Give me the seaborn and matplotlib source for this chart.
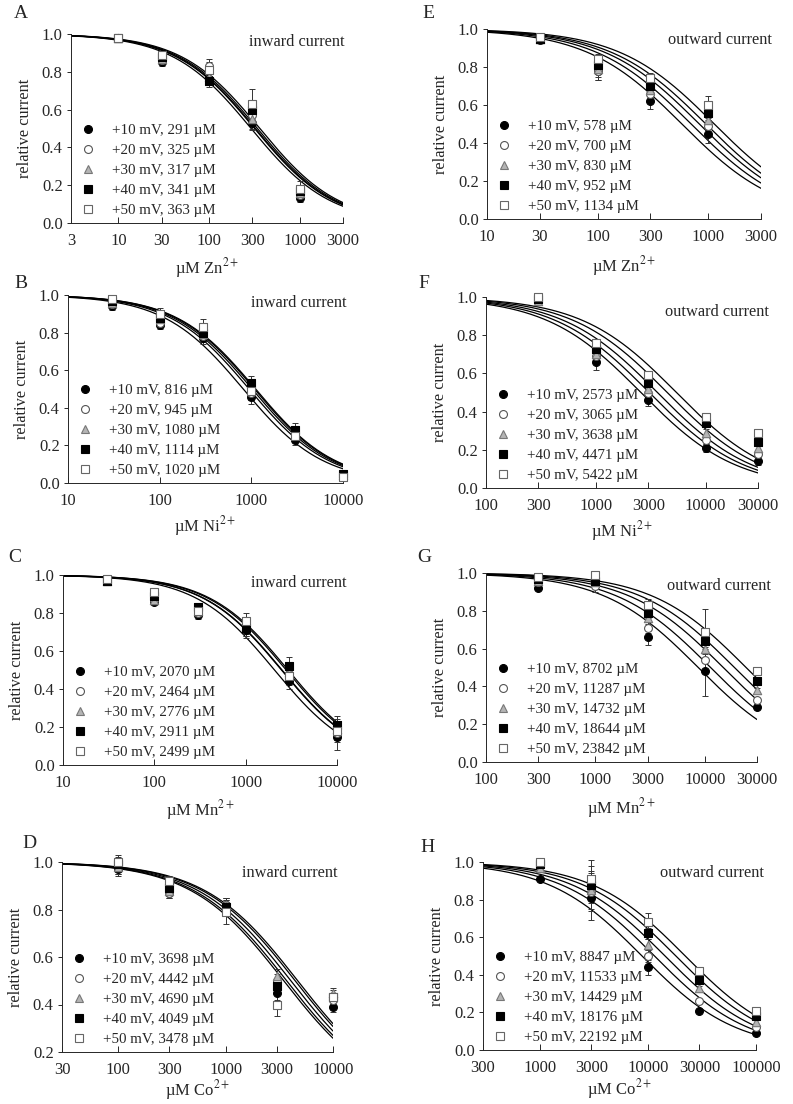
import numpy as np
import pandas as pd
import matplotlib
matplotlib.use("Agg")
import matplotlib.pyplot as plt
from matplotlib.lines import Line2D
from matplotlib.ticker import FixedLocator, NullLocator
import seaborn as sns

sns.set_style("ticks")
plt.rcParams['font.family'] = ['Liberation Serif', 'DejaVu Serif']
plt.rcParams['mathtext.fontset'] = 'stix'

#_______________________________________________________________________
# Data (rows: +10 .. +50 mV, columns: concentrations)
voltages = ['+10 mV', '+20 mV', '+30 mV', '+40 mV', '+50 mV']

# A: Zn2+, inward
a_conc = [10, 30, 100, 300, 1000]
a_ic50 = [291, 325, 317, 341, 363]
a_y = [[0.98, 0.85, 0.76, 0.53, 0.13],
       [0.98, 0.86, 0.83, 0.57, 0.15],
       [0.98, 0.87, 0.77, 0.55, 0.16],
       [0.98, 0.88, 0.75, 0.60, 0.17],
       [0.98, 0.89, 0.81, 0.63, 0.18]]
a_err = [[0.02, 0.02, 0.03, 0.04, 0.02],
         [0.02, 0.02, 0.04, 0.04, 0.03],
         [0.02, 0.02, 0.04, 0.05, 0.03],
         [0.02, 0.02, 0.03, 0.04, 0.03],
         [0.02, 0.02, 0.04, 0.08, 0.04]]

# E: Zn2+, outward
e_conc = [30, 100, 300, 1000]
e_ic50 = [578, 700, 830, 952, 1134]
e_y = [[0.94, 0.78, 0.62, 0.45],
       [0.95, 0.78, 0.66, 0.49],
       [0.95, 0.79, 0.68, 0.52],
       [0.95, 0.81, 0.70, 0.56],
       [0.96, 0.84, 0.74, 0.60]]
e_err = [[0.01, 0.05, 0.04, 0.05],
         [0.01, 0.05, 0.03, 0.04],
         [0.01, 0.04, 0.03, 0.04],
         [0.01, 0.04, 0.03, 0.04],
         [0.01, 0.03, 0.03, 0.05]]

# B: Ni2+, inward
b_conc = [30, 100, 300, 1000, 3000, 10000]
b_ic50 = [816, 945, 1080, 1114, 1020]
b_y = [[0.94, 0.84, 0.77, 0.46, 0.23, 0.04],
       [0.95, 0.85, 0.78, 0.48, 0.25, 0.03],
       [0.96, 0.87, 0.79, 0.50, 0.26, 0.04],
       [0.97, 0.88, 0.80, 0.53, 0.28, 0.05],
       [0.98, 0.90, 0.83, 0.49, 0.25, 0.03]]
b_err = [[0.02, 0.02, 0.03, 0.04, 0.03, 0.01],
         [0.02, 0.02, 0.03, 0.04, 0.03, 0.01],
         [0.02, 0.02, 0.03, 0.04, 0.03, 0.01],
         [0.02, 0.02, 0.03, 0.04, 0.04, 0.01],
         [0.02, 0.03, 0.04, 0.04, 0.03, 0.01]]

# F: Ni2+, outward
f_conc = [300, 1000, 3000, 10000, 30000]
f_ic50 = [2573, 3065, 3638, 4471, 5422]
f_y = [[0.98, 0.66, 0.46, 0.21, 0.14],
       [0.98, 0.69, 0.50, 0.25, 0.18],
       [0.98, 0.70, 0.52, 0.29, 0.21],
       [0.99, 0.73, 0.55, 0.34, 0.24],
       [1.00, 0.76, 0.59, 0.37, 0.29]]
f_err = [[0.01, 0.04, 0.03, 0.02, 0.02],
         [0.01, 0.03, 0.03, 0.02, 0.02],
         [0.01, 0.03, 0.03, 0.02, 0.02],
         [0.01, 0.03, 0.03, 0.02, 0.02],
         [0.01, 0.02, 0.02, 0.02, 0.02]]

# C: Mn2+, inward
c_conc = [30, 100, 300, 1000, 3000, 10000]
c_ic50 = [2070, 2464, 2776, 2911, 2499]
c_y = [[0.97, 0.86, 0.79, 0.71, 0.44, 0.15],
       [0.97, 0.87, 0.80, 0.72, 0.48, 0.17],
       [0.97, 0.87, 0.81, 0.73, 0.49, 0.19],
       [0.97, 0.89, 0.83, 0.72, 0.52, 0.21],
       [0.98, 0.91, 0.81, 0.76, 0.47, 0.18]]
c_err = [[0.02, 0.01, 0.02, 0.04, 0.04, 0.07],
         [0.02, 0.02, 0.02, 0.04, 0.05, 0.05],
         [0.02, 0.02, 0.02, 0.04, 0.05, 0.05],
         [0.02, 0.02, 0.02, 0.04, 0.05, 0.05],
         [0.02, 0.02, 0.02, 0.04, 0.05, 0.05]]

# G: Mn2+, outward
g_conc = [300, 1000, 3000, 10000, 30000]
g_ic50 = [8702, 11287, 14732, 18644, 23842]
g_y = [[0.92, 0.95, 0.66, 0.48, 0.29],
       [0.95, 0.93, 0.71, 0.54, 0.33],
       [0.96, 0.95, 0.76, 0.60, 0.38],
       [0.97, 0.96, 0.79, 0.64, 0.43],
       [0.98, 0.99, 0.83, 0.69, 0.48]]
g_err = [[0.01, 0.02, 0.04, 0.13, 0.01],
         [0.01, 0.03, 0.03, 0.06, 0.01],
         [0.01, 0.03, 0.03, 0.06, 0.01],
         [0.01, 0.03, 0.03, 0.06, 0.01],
         [0.01, 0.02, 0.03, 0.12, 0.01]]

# D: Co2+, inward
d_conc = [100, 300, 1000, 3000, 10000]
d_ic50 = [3698, 4442, 4690, 4049, 3478]
d_y = [[0.97, 0.87, 0.82, 0.45, 0.39],
       [0.98, 0.87, 0.82, 0.50, 0.42],
       [0.98, 0.88, 0.82, 0.52, 0.45],
       [0.99, 0.89, 0.81, 0.48, 0.43],
       [1.00, 0.92, 0.79, 0.40, 0.43]]
d_err = [[0.03, 0.02, 0.03, 0.03, 0.02],
         [0.03, 0.02, 0.03, 0.03, 0.02],
         [0.03, 0.02, 0.03, 0.03, 0.02],
         [0.03, 0.02, 0.03, 0.03, 0.02],
         [0.03, 0.02, 0.05, 0.05, 0.03]]

# H: Co2+, outward
h_conc = [1000, 3000, 10000, 30000, 100000]
h_ic50 = [8847, 11533, 14429, 18176, 22192]
h_y = [[0.91, 0.81, 0.44, 0.21, 0.09],
       [0.98, 0.84, 0.50, 0.26, 0.12],
       [0.97, 0.85, 0.56, 0.33, 0.15],
       [0.99, 0.88, 0.62, 0.37, 0.18],
       [1.00, 0.91, 0.68, 0.42, 0.21]]
h_err = [[0.01, 0.12, 0.04, 0.01, 0.01],
         [0.01, 0.10, 0.03, 0.01, 0.01],
         [0.01, 0.10, 0.03, 0.01, 0.01],
         [0.01, 0.10, 0.03, 0.01, 0.01],
         [0.01, 0.10, 0.05, 0.01, 0.01]]

# marker style per voltage: (marker, face, edge)
styles = [('o', 'black', 'black'),
          ('o', 'white', '#555555'),
          ('^', '#b4b4b4', '#777777'),
          ('s', 'black', 'black'),
          ('s', 'white', '#666666')]

#_______________________________________________________________________
fig = plt.figure(figsize=(7.93, 11.04), dpi=100)
W, H = 793, 1104


def add_axes(left, right, top, bottom):
    return fig.add_axes([left / W, 1 - bottom / H, (right - left) / W, (bottom - top) / H])


def draw_panel(ax, conc, ic50, ys, errs, xlim, xticks, ylim, yticks, ion, note, note_xy, xpad):
    # fitted Hill curves (n = 1) from the IC50 values in the legend
    grid = np.logspace(np.log10(xlim[0]), np.log10(xlim[1]), 200)
    for k in ic50:
        sns.lineplot(x=grid, y=1 / (1 + grid / k), color='black', lw=0.9, ax=ax, zorder=2)
    for i, (mk, fc, ec) in enumerate(styles):
        eb = ax.errorbar(conc, ys[i], yerr=errs[i], fmt='none', ecolor='#333333',
                         elinewidth=0.7, capsize=2.5, capthick=0.7, zorder=3)
        for art in eb.lines[1] + eb.lines[2]:
            art.set_clip_on(False)
        df = pd.DataFrame({'conc': conc, 'y': ys[i]})
        sns.scatterplot(data=df, x='conc', y='y', marker=mk, color=fc, edgecolor=ec,
                        linewidth=0.8, s=32 if mk != '^' else 36, ax=ax, zorder=4,
                        clip_on=False)
    ax.set_xscale('log')
    ax.set_xlim(xlim)
    ax.set_ylim(ylim)
    ax.xaxis.set_major_locator(FixedLocator(xticks))
    ax.xaxis.set_minor_locator(NullLocator())
    ax.set_xticklabels([str(t) for t in xticks])
    ax.set_yticks(yticks)
    ax.set_yticklabels(['%.1f' % t for t in yticks])
    ax.tick_params(axis='x', direction='in', length=4, width=0.7, labelsize=12, pad=7)
    ax.tick_params(axis='y', direction='out', length=3, width=0.7, labelsize=12, pad=3)
    for s in ['top', 'right']:
        ax.spines[s].set_visible(False)
    for s in ['left', 'bottom']:
        ax.spines[s].set_linewidth(0.7)
    ax.set_xlabel('µM ' + ion + '$^{2+}$', fontsize=12, labelpad=xpad)
    ax.set_ylabel('relative current', fontsize=11.8, labelpad=6)
    ax.text(note_xy[0], note_xy[1], note, transform=ax.transAxes, ha='center',
            va='center', fontsize=11.8)
    handles = [Line2D([], [], ls='none', marker=mk, markerfacecolor=fc, markeredgecolor=ec,
                      markeredgewidth=0.8, markersize=5.7 if mk != '^' else 6.2)
               for mk, fc, ec in styles]
    labels = ['%s, %d µM' % (v, k) for v, k in zip(voltages, ic50)]
    ax.legend(handles, labels, loc='lower left', bbox_to_anchor=(0.035, 0.03),
              frameon=False, fontsize=10.8, handlelength=1.0, handletextpad=1.1,
              labelspacing=0.44, borderpad=0, borderaxespad=0)


panels = [
    # letter, axes box (l, r, t, b), letter pos, data..., xlabel pad
    ('A', (71, 343, 34, 223), (14, 14), a_conc, a_ic50, a_y, a_err, (3, 3000),
     [3, 10, 30, 100, 300, 1000, 3000], (0, 1), 'Zn', 'inward current', (0.83, 0.96), 5),
    ('E', (487, 761, 29, 219), (422, 14), e_conc, e_ic50, e_y, e_err, (10, 3000),
     [10, 30, 100, 300, 1000, 3000], (0, 1), 'Zn', 'outward current', (0.85, 0.94), 7),
    ('B', (68, 343, 295, 483), (14, 284), b_conc, b_ic50, b_y, b_err, (10, 10000),
     [10, 100, 1000, 10000], (0, 1), 'Ni', 'inward current', (0.84, 0.96), 4),
    ('F', (486, 758, 297, 488), (418, 284), f_conc, f_ic50, f_y, f_err, (100, 30000),
     [100, 300, 1000, 3000, 10000, 30000], (0, 1), 'Ni', 'outward current', (0.85, 0.92), 4),
    ('C', (63, 337, 575, 765), (8, 557), c_conc, c_ic50, c_y, c_err, (10, 10000),
     [10, 100, 1000, 10000], (0, 1), 'Mn', 'inward current', (0.86, 0.96), 5),
    ('G', (486, 757, 573, 762), (417, 558), g_conc, g_ic50, g_y, g_err, (100, 30000),
     [100, 300, 1000, 3000, 10000, 30000], (0, 1), 'Mn', 'outward current', (0.86, 0.93), 6),
    ('D', (62, 333, 862, 1052), (22, 844), d_conc, d_ic50, d_y, d_err, (30, 10000),
     [30, 100, 300, 1000, 3000, 10000], (0.2, 1), 'Co', 'inward current', (0.84, 0.94), 0),
    ('H', (483, 756, 862, 1050), (420, 847), h_conc, h_ic50, h_y, h_err, (300, 100000),
     [300, 1000, 3000, 10000, 30000, 100000], (0, 1), 'Co', 'outward current', (0.84, 0.94), 1),
]

for (letter, box, lpos, conc, ic50, ys, errs, xlim, xticks, ylim, ion, note, nxy, xpad) in panels:
    ax = add_axes(*box)
    yticks = np.round(np.arange(ylim[0], 1.0001, 0.2), 1)
    draw_panel(ax, conc, ic50, ys, errs, xlim, xticks, ylim, yticks, ion, note, nxy, xpad)
    fig.text(lpos[0] / W, 1 - lpos[1] / H, letter, fontsize=14, ha='left', va='center')

fig.savefig('out.png', dpi=100)
